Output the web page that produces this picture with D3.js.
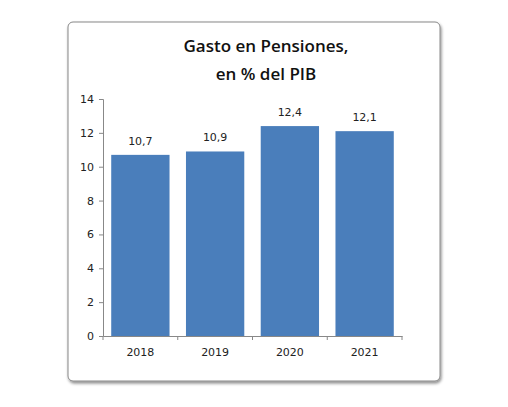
<!DOCTYPE html><html><head><meta charset="utf-8"><script src="https://cdn.jsdelivr.net/npm/d3@7"></script>
<style>body{margin:0;background:#fff}</style></head><body><svg width="508" height="407"></svg><script>
const years=["2018","2019","2020","2021"];
const values=[10.7,10.9,12.4,12.1];
const yTicks=[0,2,4,6,8,10,12,14];
const svg=d3.select("svg");
const defs=svg.append("defs");
const f=defs.append("filter").attr("id","sh").attr("x","-10%").attr("y","-10%").attr("width","120%").attr("height","120%");
f.append("feDropShadow").attr("dx",1).attr("dy",2).attr("stdDeviation",1.5).attr("flood-color","#000").attr("flood-opacity",0.45);
svg.append("rect").attr("x",68).attr("y",22).attr("width",372).attr("height",359).attr("rx",5).attr("fill","#fff").attr("stroke","#888").attr("stroke-width",1).attr("filter","url(#sh)");
const t=svg.append("text").attr("text-anchor","middle").attr("font-family","Open Sans, sans-serif").attr("font-size",17).attr("font-weight",600).attr("fill","#111");
t.append("tspan").attr("x",266).attr("y",52).text("Gasto en Pensiones,");
t.append("tspan").attr("x",266).attr("y",80).text("en % del PIB");
const x=d3.scaleBand().domain(years).range([103,402]).paddingInner(0.22).paddingOuter(0.11);
const y=d3.scaleLinear().domain([0,14]).range([336,99]);
svg.selectAll(".b").data(values).join("rect").attr("x",(d,i)=>x(years[i])).attr("width",x.bandwidth()).attr("y",d=>y(d)).attr("height",d=>y(0)-y(d)).attr("fill","#4a7ebb");
svg.selectAll(".l").data(values).join("text").attr("x",(d,i)=>x(years[i])+x.bandwidth()/2).attr("y",d=>y(d)-10).attr("text-anchor","middle").attr("font-family","DejaVu Sans, sans-serif").attr("font-size",11).attr("fill","#222").text(d=>String(d).replace(".",","));
const ya=svg.append("g").attr("transform","translate(103,0)").call(d3.axisLeft(y).tickValues(yTicks).tickSize(4).tickPadding(5));
const xa=svg.append("g").attr("transform","translate(0,336)").call(d3.axisBottom(x).tickSize(0).tickPadding(12));
xa.selectAll(".tick").append("line").attr("stroke","#888").attr("x1",-x.step()/2).attr("x2",-x.step()/2).attr("y2",4);
xa.append("line").attr("stroke","#888").attr("x1",402).attr("x2",402).attr("y2",4);
[ya,xa].forEach(a=>{a.selectAll("path,line").attr("stroke","#888");a.selectAll("text").attr("font-family","DejaVu Sans, sans-serif").attr("font-size",11).attr("fill","#222");});
</script></body></html>
